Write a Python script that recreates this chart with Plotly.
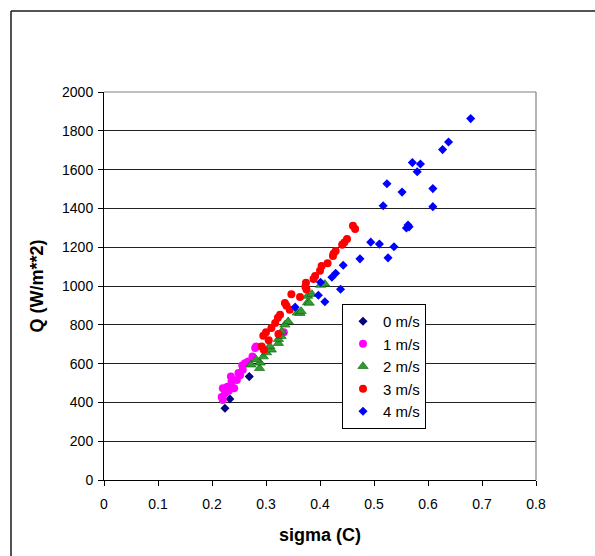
import plotly.graph_objects as go

# ---- data ----
series_names = ["0 m/s", "1 m/s", "2 m/s", "3 m/s", "4 m/s"]

x0 = [0.224, 0.233, 0.227, 0.269]
q0 = [370, 418, 478, 533]

x1 = [0.220, 0.218, 0.224, 0.220, 0.228, 0.241, 0.236, 0.235, 0.246, 0.249,
      0.257, 0.256, 0.261, 0.267, 0.275, 0.280, 0.282, 0.333, 0.231, 0.252]
q1 = [413, 428, 447, 473, 480, 473, 507, 533, 516, 551,
      568, 590, 602, 611, 636, 680, 688, 762, 460, 540]

x2 = [0.272, 0.288, 0.289, 0.282, 0.295, 0.301, 0.310, 0.307, 0.323, 0.323,
      0.328, 0.329, 0.335, 0.341, 0.358, 0.363, 0.365, 0.377, 0.380, 0.377,
      0.385, 0.401, 0.409]
q2 = [594, 576, 604, 620, 636, 657, 671, 690, 705, 726,
      741, 765, 800, 817, 862, 860, 870, 915, 913, 948,
      958, 1005, 1010]

x3 = [0.292, 0.296, 0.300, 0.295, 0.305, 0.310, 0.317, 0.323, 0.326, 0.322,
      0.335, 0.344, 0.338, 0.347, 0.363, 0.373, 0.375, 0.374, 0.388, 0.391,
      0.400, 0.403, 0.414, 0.424, 0.425, 0.429, 0.441, 0.445, 0.450, 0.461, 0.465]
q3 = [688, 672, 762, 743, 720, 783, 809, 753, 852, 836,
      912, 877, 898, 958, 943, 996, 982, 1017, 1036, 1052,
      1079, 1103, 1117, 1155, 1166, 1181, 1213, 1224, 1242, 1311, 1294]

x4 = [0.354, 0.397, 0.401, 0.409, 0.422, 0.429, 0.438, 0.443, 0.474, 0.494,
      0.510, 0.526, 0.537, 0.517, 0.524, 0.552, 0.560, 0.563, 0.565, 0.571,
      0.580, 0.586, 0.609, 0.609, 0.627, 0.638, 0.679]
q4 = [891, 952, 1019, 919, 1045, 1066, 983, 1107, 1140, 1226,
      1216, 1145, 1202, 1414, 1527, 1484, 1299, 1314, 1305, 1636,
      1589, 1629, 1502, 1409, 1703, 1742, 1863]

x_ticks = [0, 0.1, 0.2, 0.3, 0.4, 0.5, 0.6, 0.7, 0.8]
x_tick_labels = ["0", "0.1", "0.2", "0.3", "0.4", "0.5", "0.6", "0.7", "0.8"]
y_ticks = [0, 200, 400, 600, 800, 1000, 1200, 1400, 1600, 1800, 2000]
y_tick_labels = [str(v) for v in y_ticks]

# ---- styles ----
FONT = "Liberation Sans, Arial, sans-serif"
W, H = 595, 556
# plot area in page pixels: x 104..536, y 92..480
L, T = 104, 92
R = W - 536
B = H - 480

styles = [
    dict(symbol="diamond", size=7, color="#000080", line=dict(width=0)),
    dict(symbol="circle", size=8, color="#FF00FF", line=dict(width=0)),
    dict(symbol="triangle-up", size=9, color="#339933", line=dict(width=0.6, color="#006400")),
    dict(symbol="circle", size=8, color="#FF0000", line=dict(width=0)),
    dict(symbol="diamond", size=7, color="#0000FF", line=dict(width=0)),
]
xs = [x0, x1, x2, x3, x4]
qs = [q0, q1, q2, q3, q4]

fig = go.Figure()
for i, (name, xv, qv, st) in enumerate(zip(series_names, xs, qs, styles)):
    fig.add_trace(go.Scatter(
        x=xv, y=qv, mode="markers", name=name, legendgroup=f"g{i}",
        marker=st, cliponaxis=False,
    ))

pw = W - L - R
ph = H - T - B

def px_x(p):  # page pixel -> paper x
    return (p - L) / pw

def px_y(p):  # page pixel -> paper y
    return (H - B - p) / ph

border = dict(color="#1a1a1a", width=1.5)
shapes = [
    dict(type="line", xref="x domain", yref="y domain", x0=0, x1=1, y0=1, y1=1,
         line=dict(color="#808080", width=1.2), layer="above"),
    dict(type="line", xref="x domain", yref="y domain", x0=1, x1=1, y0=0, y1=1,
         line=dict(color="#808080", width=1.2), layer="above"),
    # outer chart border: only left and top edges are visible in the window
    dict(type="line", xref="paper", yref="paper",
         x0=px_x(11), x1=px_x(11), y0=px_y(H), y1=px_y(11), line=border, layer="above"),
    dict(type="line", xref="paper", yref="paper",
         x0=px_x(11), x1=px_x(W), y0=px_y(11), y1=px_y(11), line=border, layer="above"),
]

fig.update_layout(
    width=W, height=H,
    margin=dict(l=L, r=R, t=T, b=B, pad=0),
    paper_bgcolor="white", plot_bgcolor="white",
    font=dict(family=FONT, size=14, color="black"),
    showlegend=True,
    legend=dict(
        x=px_x(342), y=px_y(304), xanchor="left", yanchor="top",
        bgcolor="white", bordercolor="black", borderwidth=1,
        font=dict(family=FONT, size=15, color="black"),
        tracegroupgap=3, traceorder="normal", itemwidth=30,
    ),
    shapes=shapes,
    xaxis=dict(
        range=[0, 0.8], tickvals=x_ticks, ticktext=x_tick_labels,
        showgrid=False, zeroline=False,
        showline=True, linecolor="black", linewidth=1,
        ticks="outside", ticklen=5, tickcolor="black", tickwidth=1,
        ticklabelstandoff=6,
        tickfont=dict(family=FONT, size=14),
        title=dict(text="<b>sigma (C)</b>", font=dict(family=FONT, size=18), standoff=17),
    ),
    yaxis=dict(
        range=[0, 2000], tickvals=y_ticks, ticktext=y_tick_labels,
        showgrid=True, gridcolor="#222222", gridwidth=1, zeroline=False,
        showline=True, linecolor="black", linewidth=1,
        ticks="outside", ticklen=5, tickcolor="black", tickwidth=1,
        ticklabelstandoff=2,
        tickfont=dict(family=FONT, size=14),
        title=dict(text="<b>Q (W/m**2)</b>", font=dict(family=FONT, size=18), standoff=13),
    ),
)

fig.write_html(
    "out.html",
    config={"displayModeBar": False},
    post_script="document.body.style.margin='0';document.documentElement.style.overflow='hidden';",
)
